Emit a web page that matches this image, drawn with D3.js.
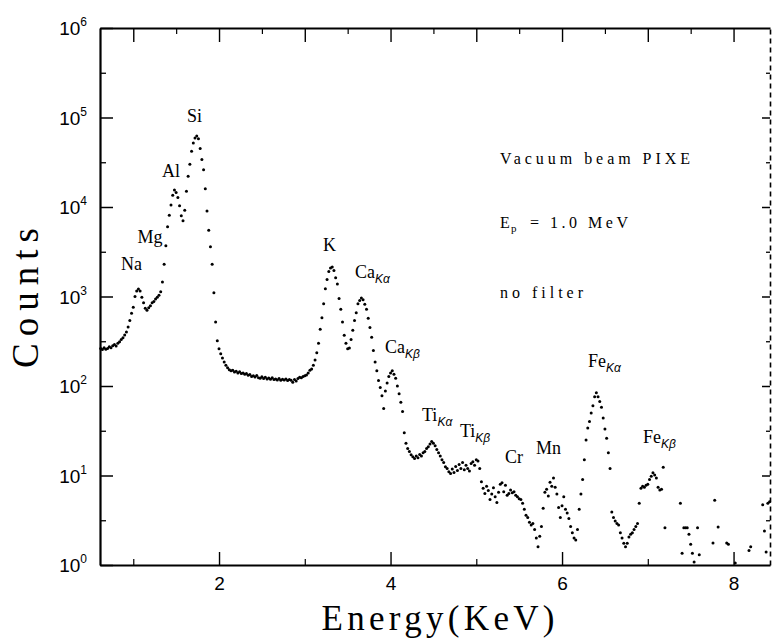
<!DOCTYPE html>
<html>
<head>
<meta charset="utf-8">
<script src="https://cdn.jsdelivr.net/npm/d3@7"></script>
<style>
    body { margin: 0; background: #fff; }
    svg { display: block; }
    .axis path, .axis line { stroke: #000; }
</style>
</head>
<body>
<svg width="772" height="643"></svg>
<script>
// spectrum: one value per channel, channel energy = channelStart + i * channelWidth (keV)
var channelStart = 0.62,
    channelWidth = 0.02;

var counts = [
    262, 255, 268, 258, 262, 275, 268, 282, 290, 280,
    300, 312, 330, 345, 372, 400, 455, 540, 650, 760,
    1000, 1150, 1210, 1150, 980, 850, 740, 700, 750, 790,
    850, 880, 940, 980, 1030, 1130, 1450, 2300, 3700, 6000,
    8100, 10500, 13500, 15500, 14500, 12800, 10300, 8000, 7000, 9200,
    15000, 22000, 30000, 42000, 52000, 59000, 62000, 58000, 45000, 34000,
    26000, 16000, 9000, 5500, 3600, 2300, 1100, 520, 320, 260,
    230, 205, 185, 170, 160, 152, 148, 150, 143, 146,
    140, 144, 138, 140, 135, 138, 132, 134, 128, 130,
    126, 131, 124, 122, 127, 121, 125, 120, 123, 119,
    124, 118, 120, 117, 121, 116, 119, 117, 120, 115,
    118, 116, 110, 118, 114, 121, 125, 124, 128, 130,
    133, 140, 150, 155, 170, 195, 235, 300, 430, 580,
    830, 1220, 1550, 1900, 2080, 2140, 1950, 1620, 1380, 950,
    720, 520, 370, 300, 260, 265, 330, 420, 540, 660,
    830, 900, 960, 920, 820, 720, 570, 450, 350, 250,
    185, 148, 115, 96, 78, 56, 88, 108, 128, 140,
    148, 135, 122, 100, 82, 66, 52, 30, 23, 20,
    18.5, 17, 16.2, 15.5, 16.5, 15.8, 17.2, 16.5, 18, 18.5,
    20, 21, 22.5, 24, 23, 21.5, 19.5, 18, 16.5, 15,
    14, 12.5, 12, 11, 10.5, 11.8, 10.8, 12.6, 11.4, 13.3,
    12, 14, 11.6, 13, 12, 11.2, 13.6, 14.2, 13, 15,
    14.5, 12, 8.5, 7.2, 6.3, 7.6, 6.8, 5.4, 6.2, 7.3,
    5.8, 5.0, 6.5, 8.0, 8.3, 6.6, 7.8, 6.0, 6.3, 6.9,
    6.4, 6.6, 6.0, 5.8, 5.5, 5.4, 4.9, 4.2, 3.6, 3.4,
    3.0, 2.8, 2.9, 2.5, 2.0, 1.6, 2.1, 2.7, 4.3, 6.5,
    7.0, 5.9, 8.4, 7.6, 9.4, 7.4, 6.2, 4.4, 3.4, 4.6,
    5.8, 4.2, 3.8, 3.3, 2.7, 2.3, 2.0, 1.9, 2.5, 4.2,
    6.2, 9.0, 15, 25, 34, 40, 50, 60, 76, 84,
    76, 67, 58, 44, 33, 26, 18, 12, 3.9, 3.4,
    3.1, 2.9, 2.8, 2.3, 2.0, 1.75, 1.6, 1.75, 2.05, 2.2,
    2.3, 2.5, 2.7, 2.9, 4.9, 7.2, 7.6, 7.4, 7.8, 8.0,
    9.0, 9.8, 10.7, 10.1, 9.4, 7.4, 6.9, 7.0, 12.4, 2.6,
    0, 0, 0, 0, 0, 0, 0, 0, 4.9, 1.35,
    2.6, 2.6, 2.6, 2.2, 1.7, 1.35, 1.08, 0, 2.6, 1.3,
    0, 0, 0, 0, 0, 0, 0, 1.76, 5.3, 0,
    2.66, 0, 0, 0, 0, 1.76, 1.7, 0, 0, 0,
    1.05, 0, 0, 0, 0, 0, 0, 0, 1.45, 1.6,
    0, 0, 0, 0, 0, 0, 4.7, 2.4, 1.4, 4.9,
    5.1
];

var energyRange = [0.612, 8.425],
    countRange = [1, 1e6];

var xMajorTicks = [2, 4, 6, 8],
    xMinorTicks = [1, 3, 5, 7],
    xTopTicks = [1, 2, 3, 4, 5, 6, 7, 8],
    xTopHalfTicks = [1.5, 2.5, 3.5, 4.5, 5.5, 6.5, 7.5],
    yDecades = [1, 10, 100, 1e3, 1e4, 1e5, 1e6],
    yExponents = ["0", "1", "2", "3", "4", "5", "6"],
    yHalfDecades = [3.162, 31.62, 316.2, 3162, 31620, 316200];

// peak labels (anchor at energy / counts of the text's left baseline)
var peakNames = ["Na", "Mg", "Al", "Si", "K", "Ca", "Ca", "Ti", "Ti", "Cr", "Mn", "Fe", "Fe"],
    peakSubs = ["", "", "", "", "", "Kα", "Kβ", "Kα", "Kβ", "", "", "Kα", "Kβ"],
    peakLabelE = [0.857, 1.05, 1.335, 1.627, 3.213, 3.586, 3.936, 4.367, 4.81, 5.335, 5.697, 6.303, 6.945],
    peakLabelCounts = [1980, 3960, 21600, 89100, 3220, 1610, 234, 40.6, 26.9, 13.8, 17.4, 163, 23.1];

////////////////////////////////////////////////////////////////////////////

var svg = d3.select("svg"),
    margin = {top: 28, right: 2, bottom: 78, left: 100},
    width = +svg.attr("width") - margin.left - margin.right,
    height = +svg.attr("height") - margin.top - margin.bottom,
    g = svg.append("g").attr("transform", "translate(" + margin.left + "," + margin.top + ")");

var x = d3.scaleLinear().domain(energyRange).range([0, width]),
    y = d3.scaleLog().domain(countRange).range([height, 0]);

function noDomain(sel) { sel.select(".domain").remove(); }

// left
g.append("g").attr("class", "axis")
    .call(d3.axisLeft(y).tickValues(yDecades).tickSizeInner(-13).tickSizeOuter(0).tickFormat(""))
    .call(function (a) { a.select(".domain").attr("stroke-width", 2.2); a.selectAll(".tick line").attr("stroke-width", 1.5); });
g.append("g").attr("class", "axis")
    .call(d3.axisLeft(y).tickValues(yHalfDecades).tickSize(-6).tickFormat(""))
    .call(noDomain)
    .selectAll(".tick line").attr("stroke-width", 1.3);

// right (broken-looking scan line)
g.append("g").attr("class", "axis").attr("transform", "translate(" + width + ",0)")
    .call(d3.axisRight(y).tickValues(yDecades.slice(1, 6)).tickSizeInner(-8).tickSizeOuter(0).tickFormat(""))
    .call(function (a) {
        a.select(".domain").attr("stroke-width", 1.6).attr("stroke-dasharray", "5,4");
        a.selectAll(".tick line").attr("stroke-width", 1.5);
    });
g.append("g").attr("class", "axis").attr("transform", "translate(" + width + ",0)")
    .call(d3.axisRight(y).tickValues(yHalfDecades).tickSize(-4).tickFormat(""))
    .call(noDomain)
    .selectAll(".tick line").attr("stroke-width", 1.3);

// top
g.append("g").attr("class", "axis")
    .call(d3.axisTop(x).tickValues(xTopTicks).tickSizeInner(-14).tickSizeOuter(0).tickFormat(""))
    .call(function (a) { a.select(".domain").attr("stroke-width", 2.2); a.selectAll(".tick line").attr("stroke-width", 1.4); });
g.append("g").attr("class", "axis")
    .call(d3.axisTop(x).tickValues(xTopHalfTicks).tickSize(-6).tickFormat(""))
    .call(noDomain)
    .selectAll(".tick line").attr("stroke-width", 1.2);

// bottom
var axisX = g.append("g").attr("class", "axis").attr("transform", "translate(0," + height + ")")
    .call(d3.axisBottom(x).tickValues(xMajorTicks).tickSizeInner(-13).tickSizeOuter(0).tickPadding(12).tickFormat(d3.format("d")));
axisX.select(".domain").attr("stroke-width", 2.2);
axisX.selectAll(".tick line").attr("stroke-width", 1.4);
axisX.attr("font-family", "'Liberation Sans', sans-serif").attr("font-size", 19);
axisX.selectAll(".tick text").attr("fill", "#000");
g.append("g").attr("class", "axis").attr("transform", "translate(0," + height + ")")
    .call(d3.axisBottom(x).tickValues(xMinorTicks).tickSize(-6).tickFormat(""))
    .call(noDomain)
    .selectAll(".tick line").attr("stroke-width", 1.2);

// y tick labels 10^n
var yLabels = g.append("g").attr("font-family", "'Liberation Sans', sans-serif").attr("fill", "#000");
yDecades.forEach(function (v, i) {
    var t = yLabels.append("text")
        .attr("x", -13)
        .attr("y", y(v) + 7)
        .attr("text-anchor", "end")
        .attr("font-size", 19);
    t.append("tspan").text("10");
    t.append("tspan").attr("dy", -9).attr("font-size", 12).text(yExponents[i]);
});

// data points
var points = counts.map(function (c, i) {
    return {e: channelStart + i * channelWidth, c: c};
}).filter(function (d) {
    return d.c > 0 && d.e <= energyRange[1];
});

g.append("g").selectAll("circle")
    .data(points)
    .enter().append("circle")
    .attr("cx", function (d) { return x(d.e); })
    .attr("cy", function (d) { return y(d.c); })
    .attr("r", 1.5)
    .attr("fill", "#000");

// peak labels
var labels = g.append("g").attr("font-family", "'Liberation Serif', serif").attr("fill", "#000");
peakNames.forEach(function (name, i) {
    var t = labels.append("text")
        .attr("x", x(peakLabelE[i]))
        .attr("y", y(peakLabelCounts[i]))
        .attr("font-size", 18);
    t.append("tspan").text(name);
    if (peakSubs[i]) {
        t.append("tspan").attr("dy", 5).attr("font-size", 12)
            .attr("font-family", "'Liberation Sans', sans-serif")
            .attr("font-style", "italic").text(peakSubs[i]);
    }
});

// annotation block (wide, letter-spaced typewriter look)
var note = svg.append("g").attr("font-family", "'Liberation Serif', serif").attr("font-size", 16).attr("fill", "#000");
note.append("text").attr("x", 500).attr("y", 164)
    .attr("textLength", 190).attr("lengthAdjust", "spacing").text("Vacuum beam PIXE");
var ep = note.append("text").attr("y", 228);
ep.append("tspan").attr("x", 500).text("E");
ep.append("tspan").attr("x", 511).attr("dy", 4).attr("font-size", 11).text("p");
note.append("text").attr("x", 530).attr("y", 228)
    .attr("textLength", 98).attr("lengthAdjust", "spacing").text("=  1.0  MeV");
note.append("text").attr("x", 500).attr("y", 298)
    .attr("textLength", 83).attr("lengthAdjust", "spacing").text("no filter");

// axis titles
svg.append("text")
    .attr("transform", "translate(38,298) rotate(-90)")
    .attr("text-anchor", "middle")
    .attr("font-family", "'Liberation Serif', serif")
    .attr("font-size", 37)
    .attr("textLength", 140)
    .attr("lengthAdjust", "spacing")
    .text("Counts");

svg.append("text")
    .attr("x", 438)
    .attr("y", 630)
    .attr("text-anchor", "middle")
    .attr("font-family", "'Liberation Serif', serif")
    .attr("font-size", 35)
    .attr("textLength", 233)
    .attr("lengthAdjust", "spacing")
    .text("Energy(KeV)");
</script>
</body>
</html>
